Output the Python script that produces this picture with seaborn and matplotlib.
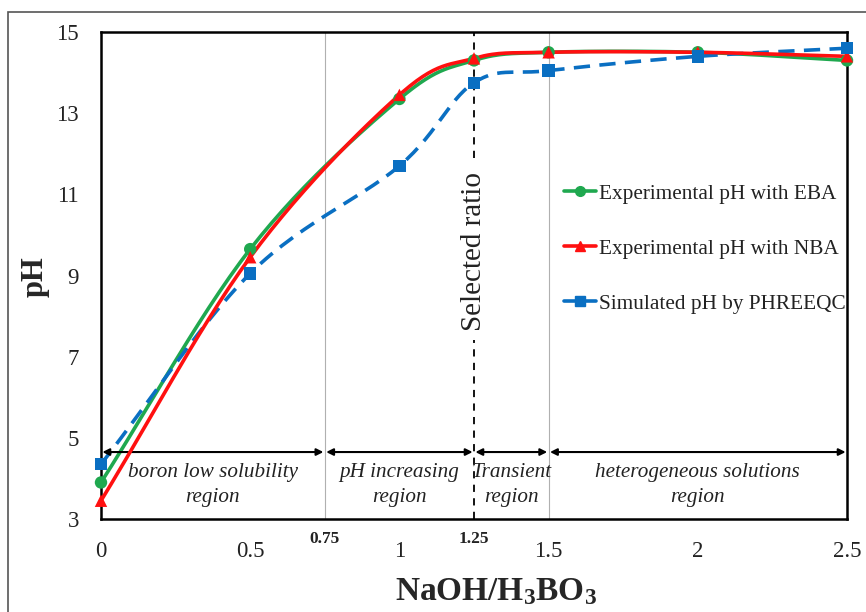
import numpy as np
import pandas as pd
import matplotlib
matplotlib.use("Agg")
import matplotlib.pyplot as plt
import seaborn as sns
from matplotlib.lines import Line2D
from matplotlib.patches import Rectangle

# ---- data ----
ratio = [0, 0.5, 1.0, 1.25, 1.5, 2.0, 2.5]
ph_eba = [3.9, 9.65, 13.35, 14.3, 14.5, 14.5, 14.3]
ph_nba = [3.45, 9.45, 13.45, 14.35, 14.5, 14.5, 14.4]
ph_sim = [4.35, 9.05, 11.7, 13.75, 14.05, 14.4, 14.6]
series_names = ["Experimental pH with EBA", "Experimental pH with NBA", "Simulated pH by PHREEQC"]
region_bounds = [0, 0.75, 1.25, 1.5, 2.5]
region_labels = ["boron low solubility\nregion", "pH increasing\nregion",
                 "Transient\nregion", "heterogeneous solutions\nregion"]
x_ticks = [0, 0.5, 1, 1.5, 2, 2.5]
x_tick_labels = ["0", "0.5", "1", "1.5", "2", "2.5"]
extra_ticks = [0.75, 1.25]
y_ticks = [3, 5, 7, 9, 11, 13, 15]

sns.set_theme(style="white")
plt.rcParams['font.family'] = ['Liberation Serif', 'DejaVu Serif']
plt.rcParams['mathtext.fontset'] = 'custom'
plt.rcParams['mathtext.rm'] = 'Liberation Serif'
plt.rcParams['mathtext.bf'] = 'Liberation Serif:bold'
plt.rcParams['mathtext.default'] = 'bf'

colors = ["#1fa84f", "#ff1010", "#0a6fc2"]
markers = ["o", "^", "s"]

def smooth(xs, ys, n=30):
    # Catmull-Rom spline for drawing smoothed lines (like spreadsheet "smoothed line")
    P = np.column_stack([xs, ys]).astype(float)
    P = np.vstack([2 * P[0] - P[1], P, 2 * P[-1] - P[-2]])
    out = []
    for i in range(1, len(P) - 2):
        p0, p1, p2, p3 = P[i - 1], P[i], P[i + 1], P[i + 2]
        t = np.linspace(0, 1, n)[:, None]
        c = 0.5 * ((2 * p1) + (-p0 + p2) * t + (2 * p0 - 5 * p1 + 4 * p2 - p3) * t ** 2
                   + (-p0 + 3 * p1 - 3 * p2 + p3) * t ** 3)
        out.append(c if i == 1 else c[1:])
    out = np.vstack(out)
    return out[:, 0], out[:, 1]

fig = plt.figure(figsize=(8.66, 6.12), dpi=100)
ax = fig.add_axes([101 / 866, 1 - 519 / 612, (847 - 101) / 866, (519 - 32) / 612])

# outer frame
fig.patches.append(Rectangle((8 / 866, -0.05), 2, 1 - 12 / 612 + 0.05, transform=fig.transFigure,
                             fill=False, edgecolor="#555555", linewidth=1.2))

# vertical reference lines
for xv in [0.75, 1.5]:
    ax.axvline(xv, color="#b0b0b0", linewidth=0.8, zorder=1)
ax.plot([1.25, 1.25], [3, 7.4], color="black", linewidth=1.3, dashes=(4, 3.5), zorder=1)
ax.plot([1.25, 1.25], [11.9, 15], color="black", linewidth=1.3, dashes=(4, 3.5), zorder=1)
ax.text(1.25, 9.6, "Selected ratio", rotation=90, ha="center", va="center", fontsize=21,
        color="#222222")

# data
df = pd.DataFrame({
    "ratio": ratio * 3,
    "pH": ph_eba + ph_nba + ph_sim,
    "series": [series_names[0]] * len(ratio) + [series_names[1]] * len(ratio) + [series_names[2]] * len(ratio),
})
ys_list = [ph_eba, ph_nba, ph_sim]
for i, (name, ys) in enumerate(zip(series_names, ys_list)):
    sx, sy = smooth(ratio, ys)
    if i == 2:
        ax.plot(sx, sy, color=colors[i], linewidth=2.6, dashes=(4.5, 2.6), zorder=3)
    else:
        ax.plot(sx, sy, color=colors[i], linewidth=2.6, zorder=3 + (i == 1) * 0.5)
sns.scatterplot(data=df, x="ratio", y="pH", hue="series", style="series",
                palette=dict(zip(series_names, colors)), markers=dict(zip(series_names, markers)),
                s=80, edgecolor="none", legend=False, ax=ax, zorder=5, clip_on=False)

# region arrows and labels
for a, b, lab in zip(region_bounds[:-1], region_bounds[1:], region_labels):
    ax.annotate("", xy=(a, 4.65), xytext=(b, 4.65),
                arrowprops=dict(arrowstyle="<|-|>", color="black", lw=1.5,
                                mutation_scale=10, shrinkA=1, shrinkB=1))
    ax.text((a + b) / 2, 3.84, lab, ha="center", va="center", fontsize=15.2,
            style="italic", color="#222222", linespacing=1.4)

ax.set_xlim(0, 2.5)
ax.set_ylim(3, 15)
ax.set_xticks(x_ticks)
ax.set_xticklabels(x_tick_labels)
ax.set_yticks(y_ticks)
ax.tick_params(axis="both", which="both", direction="out", length=6, width=1,
               labelsize=16.5, color="black", labelcolor="#222222")
ax.tick_params(axis="x", pad=10)
ax.tick_params(axis="y", pad=10)
for xv in extra_ticks:
    ax.text(xv, -0.025, f"{xv:g}", transform=ax.get_xaxis_transform(), ha="center", va="top",
            fontsize=12.5, fontweight="bold", color="#222222")

for sp in ax.spines.values():
    sp.set_visible(True)
    sp.set_color("black")
    sp.set_linewidth(1.8)

ax.set_xlabel("NaOH/H$_3$BO$_3$", fontsize=24, fontweight="bold")
ax.xaxis.set_label_coords((496 - 101) / 746, -(592 - 519) / 487)
ax.xaxis.label.set_va("center")
ax.set_ylabel("pH", fontsize=22, fontweight="bold")
ax.yaxis.set_label_coords(-(101 - 35) / 746, (519 - 277) / 487)
ax.yaxis.label.set_va("center")

handles = [Line2D([0], [0], color=c, marker=m, linewidth=2.6, markersize=7)
           for c, m in zip(colors, markers)]
leg = ax.legend(handles, series_names, loc="upper left", bbox_to_anchor=(564 / 866, 1 - 184 / 612),
                bbox_transform=fig.transFigure, frameon=False, fontsize=15.3, handlelength=1.5,
                handletextpad=0.15, labelspacing=1.65, borderpad=0, borderaxespad=0)
for t in leg.get_texts():
    t.set_color("#222222")

fig.savefig("out.png", dpi=100, facecolor="white")
